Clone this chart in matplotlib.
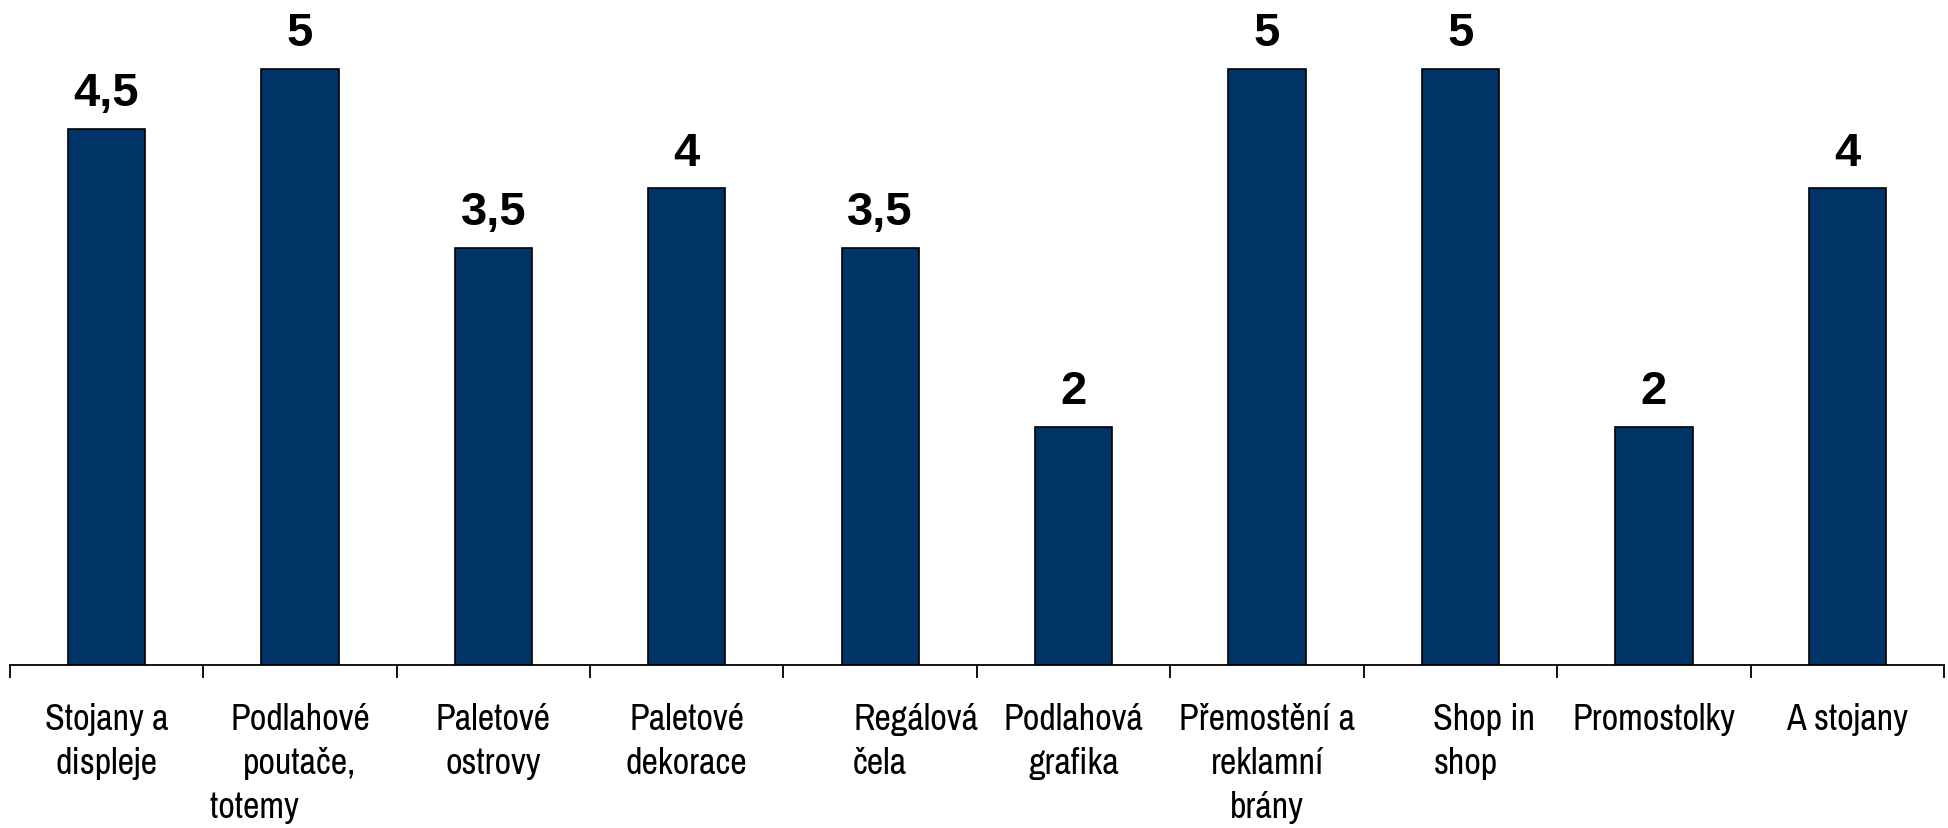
import matplotlib.pyplot as plt
import matplotlib.transforms as mtransforms
import numpy as np

categories = [
    "Stojany a\ndispleje",
    "Podlahové\npoutače,\ntotemy           ",
    "Paletové\nostrovy",
    "Paletové\ndekorace",
    "Regálová\nčela",
    "Podlahová\ngrafika",
    "Přemostění a\nreklamní\nbrány",
    "Shop in\nshop",
    "Promostolky",
    "A stojany",
]
label_align = ["center", "center", "center", "center", "left",
               "center", "center", "left", "center", "center"]
values = [4.5, 5, 3.5, 4, 3.5, 2, 5, 5, 2, 4]
value_labels = ["4,5", "5", "3,5", "4", "3,5", "2", "5", "5", "2", "4"]

BAR_COLOR = "#003366"
LABEL_FONT = ["Archivo Narrow", "Liberation Sans"]

fig = plt.figure(figsize=(19.48, 8.29), dpi=100)
ax = fig.add_axes([0.005, 0.1966, 0.993, 0.7909])

x = np.arange(len(categories))
ax.bar(x, values, width=0.40, color=BAR_COLOR, edgecolor="black", linewidth=1.2)

for xi, v, lab in zip(x, values, value_labels):
    ax.annotate(lab, (xi, v), xytext=(0, 17), textcoords="offset points",
                ha="center", va="baseline", fontsize=34, fontweight="bold",
                family="Liberation Sans")

ax.set_xlim(-0.5, len(categories) - 0.5)
ax.set_ylim(0, 5.5)
ax.set_yticks([])
for side in ["top", "right", "left"]:
    ax.spines[side].set_visible(False)
ax.spines["bottom"].set_linewidth(1.3)

# boundary ticks between categories
ax.set_xticks(np.arange(-0.5, len(categories)), labels=[""] * (len(categories) + 1))
ax.tick_params(axis="x", which="major", length=9, width=1.3, direction="out")

# category labels
trans = mtransforms.blended_transform_factory(ax.transData, ax.transAxes)
for xi, lab, al in zip(x, categories, label_align):
    if al == "left":
        ax.text(xi - 0.14, -0.056, lab, transform=trans, ha="left", va="top",
                multialignment="left", fontsize=26, linespacing=1.42,
                family=LABEL_FONT)
    else:
        ax.text(xi, -0.056, lab, transform=trans, ha="center", va="top",
                multialignment="center", fontsize=26, linespacing=1.42,
                family=LABEL_FONT)

fig.savefig("out.png", dpi=100)
